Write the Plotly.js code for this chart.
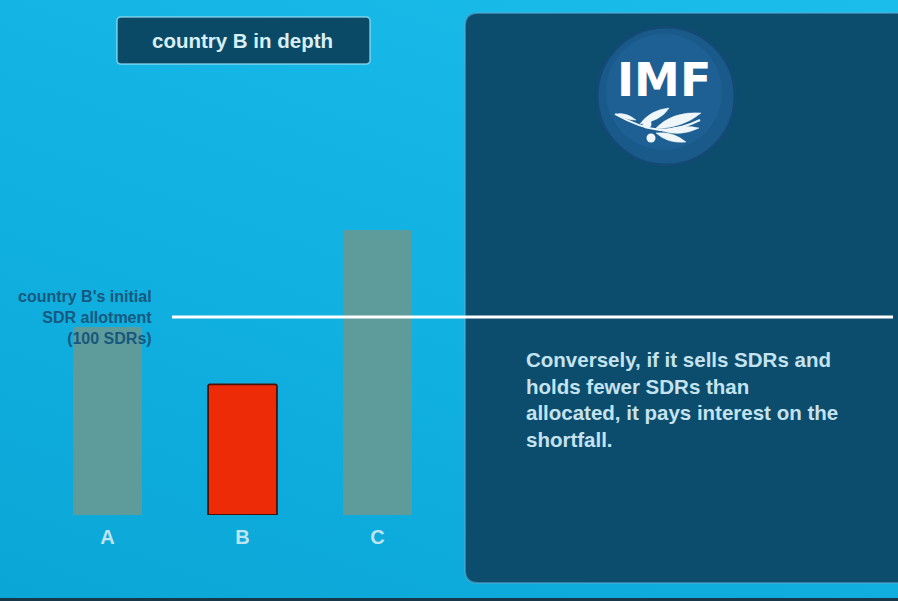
<!DOCTYPE html>
<html><head><meta charset="utf-8">
<script src="https://cdn.plot.ly/plotly-3.0.1.min.js"></script>
<style>
html,body{margin:0;padding:0;width:898px;height:601px;overflow:hidden;}
body{background:linear-gradient(200deg,#1bbdea 0%,#12b3e3 45%,#0aa6d6 100%);}
#chart{width:898px;height:601px;}
</style></head><body><div id="chart"></div>
<script>
// ---- data ----
const categories = ['A', 'B', 'C'];
const sdrHoldings = [95, 66, 144];
const allotment = 100;
const barColors = ['#5e9c9b', '#ee2b07', '#5e9c9b'];
const titleText = 'country B in depth';
const allotmentLabel = ["country B's initial", 'SDR allotment', '(100 SDRs)'];
const bodyLines = ['Conversely, if it sells SDRs and', 'holds fewer SDRs than', 'allocated, it pays interest on the', 'shortfall.'];
const logoText = 'IMF';

// ---- helpers (pixel -> paper) ----
const W = 898, H = 601;
const px = x => x / W;
const py = y => 1 - y / H;
function path(cmds) {
  return cmds.map(c => {
    const L = c[0];
    const nums = [];
    for (let i = 1; i < c.length; i += 2) nums.push(px(c[i]).toFixed(5) + ',' + py(c[i + 1]).toFixed(5));
    return L + nums.join(' ');
  }).join(' ');
}

const shapes = [];
// dark right panel
shapes.push({type: 'path', xref: 'paper', yref: 'paper', layer: 'below',
  path: path([['M', 478, 13], ['L', 905, 13], ['L', 905, 583], ['L', 478, 583], ['Q', 465, 583, 465, 570], ['L', 465, 26], ['Q', 465, 13, 478, 13]]) + ' Z',
  fillcolor: '#0c4c6d', line: {color: 'rgba(90,170,210,0.55)', width: 2}});
// bottom dark strip
shapes.push({type: 'rect', xref: 'paper', yref: 'paper', layer: 'below',
  x0: 0, x1: 1, y0: py(601), y1: py(598), fillcolor: '#17384a', line: {width: 0}});
// title box
shapes.push({type: 'path', xref: 'paper', yref: 'paper', layer: 'below',
  path: path([['M', 121, 17], ['L', 366, 17], ['Q', 370, 17, 370, 21], ['L', 370, 60], ['Q', 370, 64, 366, 64], ['L', 121, 64], ['Q', 117, 64, 117, 60], ['L', 117, 21], ['Q', 117, 17, 121, 17]]) + ' Z',
  fillcolor: '#0b4a66', line: {color: 'rgba(160,225,245,0.75)', width: 1.5}});
// logo circle
shapes.push({type: 'circle', xref: 'paper', yref: 'paper', layer: 'below',
  x0: px(597), x1: px(735), y0: py(165), y1: py(27), fillcolor: '#1a5a8b', line: {color: '#124a74', width: 3}});
shapes.push({type: 'circle', xref: 'paper', yref: 'paper', layer: 'below',
  x0: px(606), x1: px(722), y0: py(150), y1: py(34), fillcolor: 'rgba(40,110,165,0.35)', line: {width: 0}});
// olive branch
const leafCol = '#eef6fa';
shapes.push({type: 'path', xref: 'paper', yref: 'paper', layer: 'below',
  path: path([['M', 615, 114], ['Q', 640, 128, 660, 130], ['Q', 680, 130, 700, 120]]),
  line: {color: leafCol, width: 2}});
[
  [['M', 655, 129], ['Q', 672, 111, 701, 113], ['Q', 683, 128, 655, 129]],
  [['M', 662, 131], ['Q', 682, 124, 699, 128], ['Q', 681, 137, 662, 131]],
  [['M', 640, 124], ['Q', 650, 110, 669, 108], ['Q', 661, 121, 640, 124]],
  [['M', 656, 133], ['Q', 668, 144, 686, 142], ['Q', 673, 131, 656, 133]],
  [['M', 616, 114], ['Q', 626, 112, 636, 120], ['Q', 625, 120, 616, 114]]
].forEach(p => shapes.push({type: 'path', xref: 'paper', yref: 'paper', layer: 'below',
  path: path(p) + ' Z', fillcolor: leafCol, line: {color: leafCol, width: 0.5}}));
[[647, 124, 4.5], [651, 138, 4.5]].forEach(o => shapes.push({type: 'circle', xref: 'paper', yref: 'paper', layer: 'below',
  x0: px(o[0] - o[2]), x1: px(o[0] + o[2]), y0: py(o[1] + o[2]), y1: py(o[1] - o[2]), fillcolor: leafCol, line: {width: 0}}));
// allotment line (data y)
shapes.push({type: 'line', xref: 'paper', yref: 'y', x0: px(172), x1: px(893), y0: allotment, y1: allotment,
  line: {color: '#ffffff', width: 3}, layer: 'above'});

const annotations = [];
annotations.push({xref: 'paper', yref: 'paper', x: px(242), y: py(41), text: titleText, showarrow: false,
  xanchor: 'center', yanchor: 'middle', font: {family: 'Liberation Sans, Arial, sans-serif', size: 20.5, color: '#d8eff6', weight: 'bold'}});
annotations.push({xref: 'paper', yref: 'paper', x: px(664), y: py(80), text: logoText, showarrow: false,
  xanchor: 'center', yanchor: 'middle', font: {family: 'DejaVu Sans, sans-serif', size: 46, color: '#ffffff', weight: 'bold'}});
annotations.push({xref: 'paper', yref: 'paper', x: px(154), y: py(317), text: allotmentLabel.join('<br>'),
  showarrow: false, xanchor: 'right', yanchor: 'middle', align: 'right',
  font: {family: 'Liberation Sans, Arial, sans-serif', size: 16, color: '#17587e', weight: 'bold'}});
annotations.push({xref: 'paper', yref: 'paper', x: px(524), y: py(399), text: bodyLines.join('<br>'),
  showarrow: false, xanchor: 'left', yanchor: 'middle', align: 'left',
  font: {family: 'Liberation Sans, Arial, sans-serif', size: 20.5, color: '#c4e3ef', weight: 'bold'}});

const trace = {
  type: 'bar', x: categories, y: sdrHoldings, width: 0.51,
  marker: {color: barColors, cornerradius: 2,
    line: {color: ['rgba(0,0,0,0)', '#4a1206', 'rgba(0,0,0,0)'], width: [0, 1.8, 0]}},
  hoverinfo: 'x+y'
};

const layout = {
  width: W, height: H,
  margin: {l: 0, r: 0, t: 0, b: 0, pad: 0},
  paper_bgcolor: 'rgba(0,0,0,0)', plot_bgcolor: 'rgba(0,0,0,0)',
  showlegend: false,
  xaxis: {domain: [px(40), px(445)], range: [-0.5, 2.5], showgrid: false, zeroline: false, showline: false,
    ticks: '', ticklabelstandoff: 8,
    tickfont: {family: 'Liberation Sans, Arial, sans-serif', size: 20, color: '#bfe4ef', weight: 'bold'}},
  yaxis: {domain: [py(515), 1], range: [0, 515 / 1.98], visible: false, showgrid: false, zeroline: false},
  shapes: shapes, annotations: annotations
};

Plotly.newPlot('chart', [trace], layout, {displayModeBar: false, staticPlot: true});
</script></body></html>
